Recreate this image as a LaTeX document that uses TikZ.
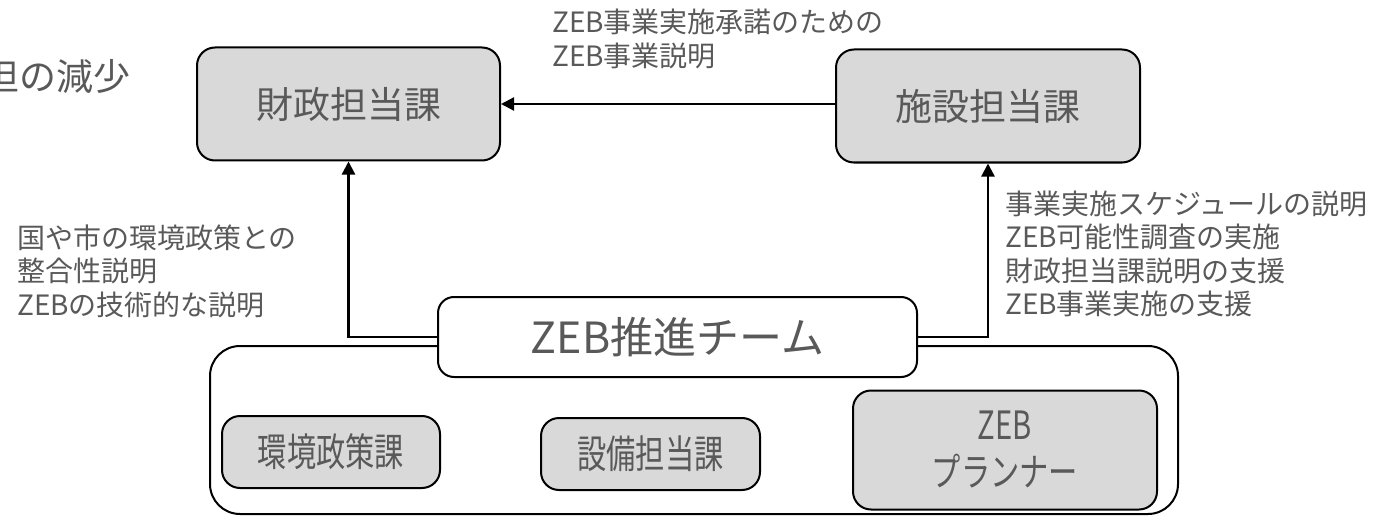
\documentclass[tikz,border=0pt]{standalone}
\usepackage{fontspec}
\setmainfont{Noto Sans CJK JP}
\newfontfamily\condfont[FakeStretch=0.75]{Noto Sans CJK JP}
\usetikzlibrary{arrows.meta}
\definecolor{txt}{HTML}{595959}
\definecolor{boxfill}{HTML}{D9D9D9}
\begin{document}
\begin{tikzpicture}[x=1pt,y=-1pt,
  box/.style={draw=black, line width=2pt, fill=boxfill, rounded corners=18pt, text=txt,
    font=\fontsize{37}{46}\selectfont, inner sep=0pt, align=center},
  smallbox/.style={box, font=\condfont\fontsize{39}{47}\selectfont},
  teambox/.style={draw=black, line width=2pt, fill=white, rounded corners=16pt, text=txt,
    font=\fontsize{43}{50}\selectfont, inner sep=0pt},
  groupbox/.style={draw=black, line width=2pt, rounded corners=30pt, inner sep=0pt},
  note/.style={text=txt, font=\fontsize{28}{33.5}\selectfont, inner sep=0pt, align=left},
  conn/.style={draw=black, line width=2.2pt},
  arr/.style={conn, -{Triangle[length=13pt,width=13pt]}}
]
\useasboundingbox (0,0) rectangle (1376,516);

% cut-off text at the left edge
\node[text=txt, font=\fontsize{37}{46}\selectfont, inner sep=0pt, anchor=east] (cut) at (131,76) {担の減少};

% top boxes
\node[box, minimum width=303pt, minimum height=113pt] (zaisei) at (348.5,104) {財政担当課};
\node[box, minimum width=304pt, minimum height=113pt] (shisetsu) at (988,106) {施設担当課};

% outer group box
\node[groupbox, minimum width=968pt, minimum height=168pt] (group) at (694,430) {};

% team box
\node[teambox, minimum width=479pt, minimum height=80pt] (team) at (677.5,337) {ZEB推進チーム};

% member boxes
\node[smallbox, minimum width=218pt, minimum height=72pt] (kankyo) at (331,452) {環境政策課};
\node[smallbox, minimum width=219pt, minimum height=72pt] (setsubi) at (650.5,454) {設備担当課};
\node[smallbox, minimum width=304pt, minimum height=119pt] (planner) at (1005,450) {ZEB\\プランナー};

% connectors
\draw[arr] (shisetsu.west |- 0,104) -- (zaisei.east |- 0,104);
\draw[arr] (team.west) -| (zaisei.south);
\draw[arr] (team.east) -| (shisetsu.south);

% notes
\node[note, anchor=west] (n1) at (552,39) {ZEB事業実施承諾のための\\ZEB事業説明};
\node[note, anchor=west] (n2) at (17,271) {国や市の環境政策との\\整合性説明\\ZEBの技術的な説明};
\node[note, anchor=west] (n3) at (1005,254) {事業実施スケジュールの説明\\ZEB可能性調査の実施\\財政担当課説明の支援\\ZEB事業実施の支援};
\end{tikzpicture}
\end{document}
